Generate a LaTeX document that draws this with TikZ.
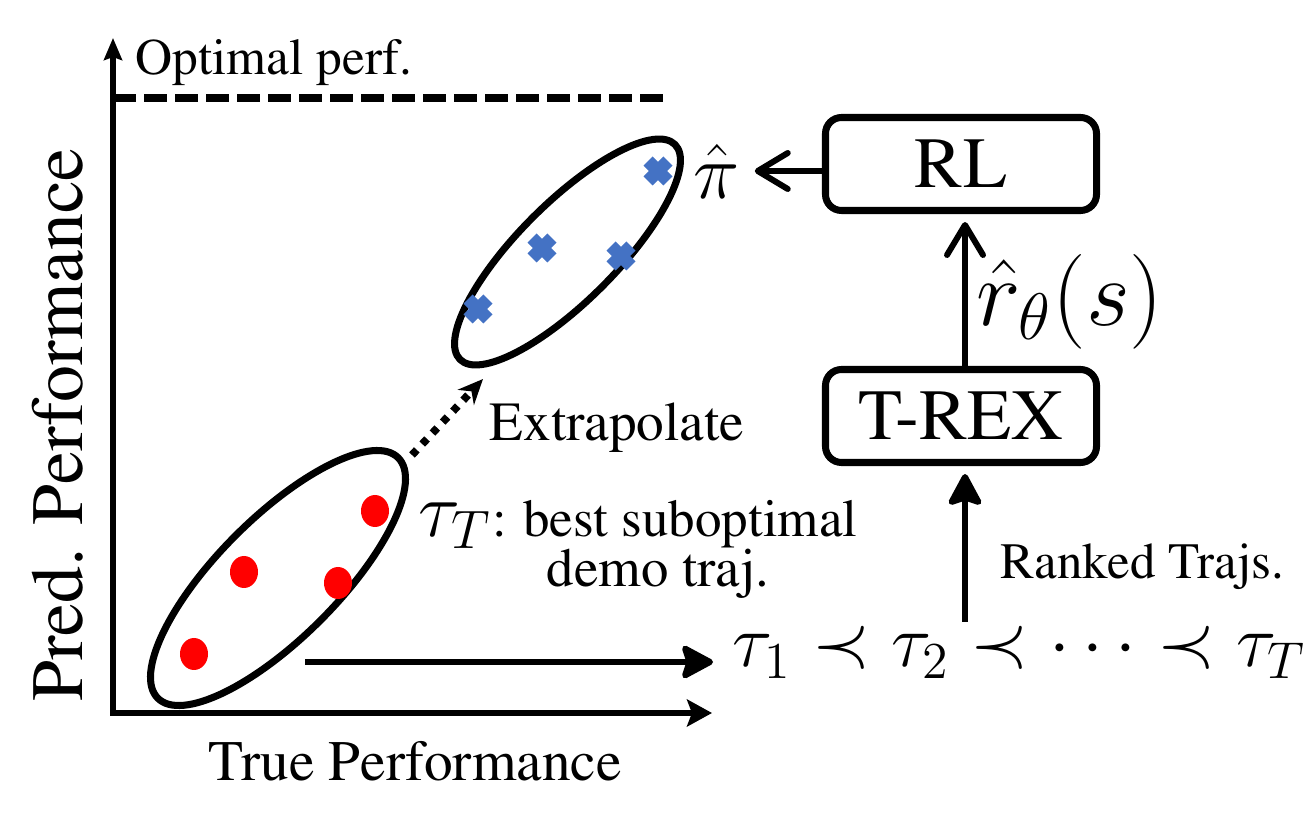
\documentclass[tikz,border=0pt]{standalone}
\usepackage{amsmath}
\usepackage{amssymb}
\usepackage{graphicx}
\usepackage[T1]{fontenc}
\renewcommand{\rmdefault}{ptm}
\usepackage{tikz}
\usepackage{xcolor}
\usetikzlibrary{arrows.meta}

\definecolor{crossblue}{HTML}{4472C4}

\begin{document}
\fontsize{20.5}{24}\selectfont
\begin{tikzpicture}[
    blk/.style={draw,line width=2pt,rounded corners=0.16cm,minimum width=2.71cm,minimum height=0.93cm,inner sep=0pt},
    barb/.style={line width=1.7pt,-{Straight Barb[round,length=0.3cm,width=0.36cm]}},
    fat/.style={line width=1.7pt,-{Stealth[round,length=0.36cm,width=0.38cm,inset=0.06cm]}}
]
\useasboundingbox (0,0) rectangle (13.05,8.17);

% axes
\coordinate (orig) at (1.13,1.04);
\coordinate (ytip) at (1.13,7.79);
\coordinate (xtip) at (7.12,1.04);
\draw[line width=1.7pt,-{Stealth[length=0.22cm,width=0.18cm,inset=0.03cm]}] ([yshift=-0.03cm]orig) -- (ytip);
\draw[line width=1.7pt,-{Stealth[length=0.25cm,width=0.27cm,inset=0.05cm]}] ([xshift=-0.03cm]orig) -- (xtip);
\draw[line width=2.3pt,dash pattern=on 0.23cm off 0.08cm] (1.13,7.19) -- (6.65,7.19);

\node[anchor=base west,inner sep=0pt] (optlbl) at (1.35,7.42) {\scalebox{0.712}{Optimal perf.}};
\node[rotate=90] (ylbl) at (0.58,3.92) {\scalebox{1.024}{Pred. Performance}};
\node[anchor=base,inner sep=0pt] (xlbl) at (4.15,0.37) {\scalebox{0.795}{True Performance}};

% demos and extrapolation
\draw[line width=2pt,rotate around={45:(2.78,2.39)}] (2.78,2.39) ellipse (1.70cm and 0.60cm);
\draw[line width=2pt,rotate around={45:(5.675,5.65)}] (5.675,5.65) ellipse (1.52cm and 0.49cm);
\foreach \p in {(3.75,3.06),(2.44,2.45),(3.38,2.34),(1.94,1.63)}{
    \fill[red] \p ellipse (0.14cm and 0.16cm);
}
\foreach \p in {(6.58,6.46),(5.42,5.69),(6.21,5.61),(4.78,5.08)}{
    \fill[crossblue,shift={\p},rotate=45] (-0.14,-0.065) rectangle (0.14,0.065) (-0.065,-0.14) rectangle (0.065,0.14);
}
\coordinate (dotfrom) at (4.12,3.62);
\coordinate (dotto) at (4.83,4.38);
\draw[line width=2.2pt,dash pattern=on 0.07cm off 0.08cm,-{Stealth[length=0.25cm,width=0.22cm]}] (dotfrom) -- (dotto);
\node[anchor=base,inner sep=0pt] (extra) at (6.17,3.76) {\scalebox{0.766}{Extrapolate}};
\node[anchor=base west,inner sep=0pt] (tauT) at (4.18,2.80) {\scalebox{1.07}{$\tau_T$}\scalebox{0.735}{: best suboptimal}};
\node[anchor=base,inner sep=0pt] (demo) at (6.58,2.30) {\scalebox{0.761}{demo traj.}};

% pipeline
\node[blk] (RL) at (9.61,6.53) {RL};
\node[blk] (trex) at (9.61,4.01) {T-REX};
\node[inner sep=0.14cm] (pihat) at (7.17,6.46) {\scalebox{1.07}{$\hat{\pi}$}};
\draw[barb] (RL.west |- pihat.east) -- (pihat.east);
\draw[barb] ([xshift=0.04cm]trex.north) -- ([xshift=0.04cm,yshift=-0.08cm]RL.south);
\node[anchor=west,inner sep=0pt] (rhat) at (9.76,5.15) {\scalebox{1.3}{$\hat{r}_\theta(s)$}};

\node[anchor=base west,inner sep=0pt] (chain) at (7.32,1.50) {\scalebox{1.024}{$\tau_1 \prec \tau_2 \prec \cdots \prec \tau_T$}};
\coordinate (rankfoot) at (9.65,1.95);
\draw[fat] (rankfoot) -- ([xshift=0.04cm,yshift=-0.08cm]trex.south);
\node[anchor=west,inner sep=0pt] (ranklbl) at (10.0,2.50) {\scalebox{0.707}{Ranked Trajs.}};
\coordinate (lowout) at (3.05,1.55);
\draw[fat] (lowout) -- ([xshift=-0.19cm]lowout -| chain.west);
\end{tikzpicture}
\end{document}
